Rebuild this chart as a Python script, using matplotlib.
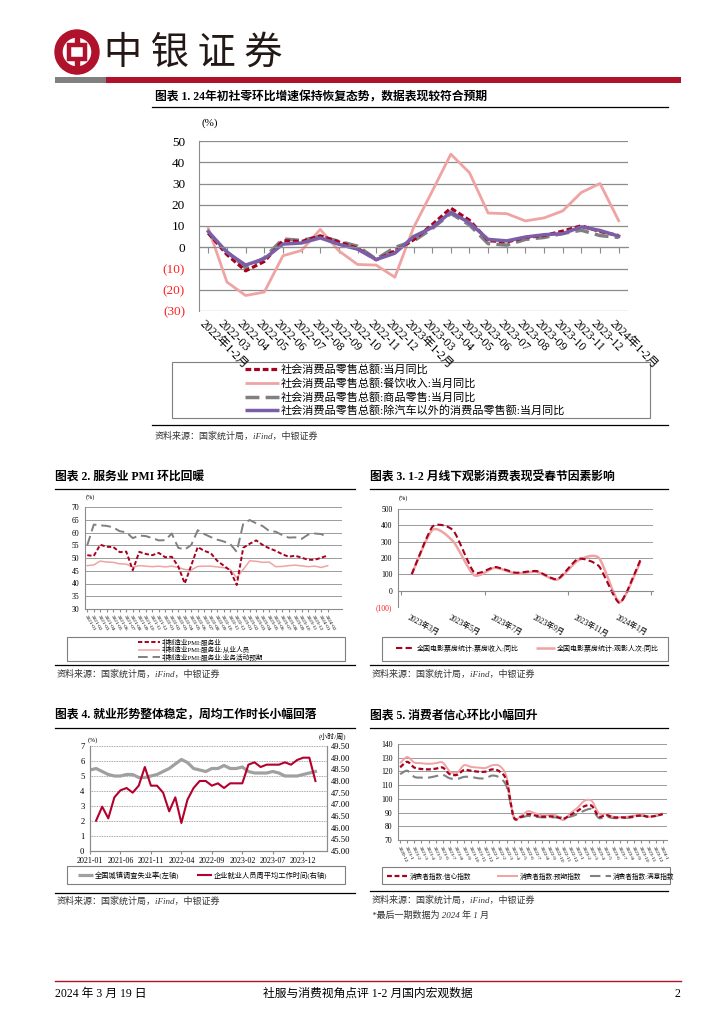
import numpy as np
import matplotlib
matplotlib.use('Agg')
import matplotlib.pyplot as plt
from matplotlib.path import Path
from matplotlib.patches import PathPatch, Wedge, Rectangle

plt.rcParams['font.family'] = ['Liberation Serif', 'Noto Sans CJK SC', 'DejaVu Sans']
plt.rcParams['axes.unicode_minus'] = False

# ---------------- data ----------------
# chart 1: retail sales yoy (%)
c1_labels = ['2022年1-2月', '2022-03', '2022-04', '2022-05', '2022-06', '2022-07', '2022-08',
             '2022-09', '2022-10', '2022-11', '2022-12', '2023年1-2月', '2023-03', '2023-04',
             '2023-05', '2023-06', '2023-07', '2023-08', '2023-09', '2023-10', '2023-11',
             '2023-12', '2024年1-2月']
c1_total = [6.7, -3.5, -11.1, -6.7, 3.1, 2.7, 5.4, 2.5, -0.5, -5.9, -1.8, 3.5, 10.6, 18.4,
            12.7, 3.1, 2.5, 4.6, 5.5, 7.6, 10.1, 7.4, 5.5]
c1_catering = [8.9, -16.4, -22.7, -21.1, -4.0, -1.5, 8.4, -1.7, -8.1, -8.4, -14.1, 9.2, 26.3,
               43.8, 35.1, 16.1, 15.8, 12.4, 13.8, 17.1, 25.8, 30.0, 12.5]
c1_goods = [6.5, -2.1, -9.7, -5.0, 3.9, 3.2, 5.1, 2.8, 0.5, -5.6, -0.1, 2.9, 8.8, 15.9, 10.5,
            1.7, 1.0, 3.7, 4.6, 6.5, 8.0, 5.5, 4.6]
c1_exauto = [7.4, -2.4, -8.4, -5.4, 1.5, 2.0, 4.4, 1.4, -0.9, -5.8, -2.8, 5.0, 9.3, 16.5, 11.5,
             3.7, 3.0, 4.8, 5.9, 6.4, 9.6, 7.9, 5.2]
c1_names = ['社会消费品零售总额:当月同比', '社会消费品零售总额:餐饮收入:当月同比',
            '社会消费品零售总额:商品零售:当月同比',
            '社会消费品零售总额:除汽车以外的消费品零售额:当月同比']

# chart 2: services PMI, 2021-01 .. 2024-02
c2_labels = ['%d-%02d' % (2021 + i // 12, i % 12 + 1) for i in range(38)]
c2_pmi = [51.1, 50.8, 55.2, 54.4, 54.3, 52.3, 52.5, 45.2, 52.4, 51.6, 51.1, 52.0, 50.3, 50.5,
          46.7, 40.0, 47.1, 54.3, 52.8, 51.9, 48.9, 47.0, 45.1, 39.4, 54.0, 55.6, 56.9, 55.1,
          53.8, 52.8, 51.5, 50.5, 50.9, 50.1, 49.3, 49.3, 50.1, 51.0]
c2_employ = [47.0, 47.3, 48.8, 48.4, 48.3, 47.7, 47.6, 46.4, 47.0, 46.8, 46.6, 46.8, 46.5, 46.8,
             46.3, 45.5, 45.3, 46.7, 46.8, 46.8, 46.5, 46.2, 45.5, 42.3, 45.5, 48.9, 48.7, 48.3,
             48.4, 46.6, 46.7, 47.0, 47.2, 46.9, 46.6, 46.8, 46.3, 47.0]
c2_expect = [55.0, 63.1, 62.8, 62.6, 62.0, 60.5, 60.1, 57.8, 58.8, 58.6, 57.8, 56.9, 57.0, 59.6,
             54.0, 53.3, 55.1, 60.9, 59.4, 58.2, 57.2, 56.5, 55.5, 52.4, 63.5, 64.9, 63.6, 62.5,
             60.6, 60.3, 59.0, 58.0, 58.1, 57.5, 59.2, 59.6, 59.4, 58.0]
c2_names = ['非制造业PMI:服务业', '非制造业PMI:服务业:从业人员', '非制造业PMI:服务业:业务活动预期']

# chart 3: box office yoy (%), 2023-03 .. 2024-02
c3_ticklabels = ['2023年3月', '2023年5月', '2023年7月', '2023年9月', '2023年11月', '2024年1月']
c3_revenue = [100, 392, 368, 112, 145, 110, 120, 70, 195, 150, -75, 190]
c3_audience = [100, 372, 300, 95, 140, 105, 115, 68, 185, 200, -70, 180]
c3_names = ['全国电影票房统计:票房收入:同比', '全国电影票房统计:观影人次:同比']

# chart 4: unemployment (%) and weekly hours, 2021-01 .. 2024-02
c4_ticklabels = ['2021-01', '2021-06', '2021-11', '2022-04', '2022-09', '2023-02', '2023-07', '2023-12']
c4_unemp = [5.4, 5.5, 5.3, 5.1, 5.0, 5.0, 5.1, 5.1, 4.9, 4.9, 5.0, 5.1, 5.3, 5.5, 5.8, 6.1, 5.9,
            5.5, 5.4, 5.3, 5.5, 5.5, 5.7, 5.5, 5.5, 5.6, 5.3, 5.2, 5.2, 5.2, 5.3, 5.2, 5.0, 5.0,
            5.0, 5.1, 5.2, 5.3]
c4_hours = [np.nan, 46.3, 46.9, 46.4, 47.3, 47.6, 47.7, 47.5, 47.8, 48.6, 47.8, 47.8, 47.5, 46.7,
            47.3, 46.2, 47.2, 47.7, 48.0, 48.0, 47.8, 47.9, 47.7, 47.9, 47.9, 47.9, 48.7, 48.8,
            48.6, 48.7, 48.7, 48.7, 48.8, 48.7, 48.9, 49.0, 49.0, 48.0]
c4_names = ['全国城镇调查失业率(左轴)', '企业就业人员周平均工作时间(右轴)']

# chart 5: consumer confidence, 2020-12 .. 2024-01
c5_labels = ['%d-%d' % (2020 + (i + 11) // 12, (i + 11) % 12 + 1) for i in range(38)]
c5_conf = [123.0, 127.0, 122.8, 121.8, 121.5, 122.0, 122.8, 118.0, 117.5, 121.0, 120.5, 119.8,
           119.8, 121.5, 120.0, 113.2, 86.7, 86.8, 88.9, 87.9, 87.0, 87.2, 86.8, 85.5, 88.3, 91.2,
           94.7, 94.9, 87.1, 88.2, 86.5, 86.5, 86.5, 87.2, 87.9, 87.0, 87.6, 88.9]
c5_expect = [126.0, 130.5, 126.5, 126.0, 125.5, 126.0, 126.5, 120.0, 119.0, 124.5, 123.3, 122.8,
             122.5, 124.5, 124.0, 116.0, 86.5, 87.5, 91.0, 89.5, 88.0, 88.2, 88.0, 84.5, 89.5,
             93.5, 98.7, 98.5, 89.5, 89.0, 87.0, 86.5, 87.0, 87.8, 88.5, 87.0, 87.8, 89.5]
c5_satisf = [118.0, 120.5, 116.0, 115.5, 115.5, 116.5, 117.5, 115.0, 114.5, 116.0, 116.0, 115.0,
             115.0, 117.0, 115.5, 109.0, 87.0, 86.5, 87.5, 87.0, 86.5, 86.5, 86.5, 86.5, 87.0,
             89.0, 91.5, 92.5, 86.0, 87.0, 86.0, 86.0, 86.2, 86.8, 87.8, 86.8, 87.5, 89.0]
c5_names = ['消费者指数:信心指数', '消费者指数:预期指数', '消费者指数:满意指数']

# ---------------- style ----------------
RED = '#A8001F'
PINK = '#F0A3A3'
GRAY = '#808080'
PURPLE = '#7B5EA8'
GRID = '#8C8C8C'
BRAND = '#B0112B'

W, H = 724, 1024
fig = plt.figure(figsize=(W / 100, H / 100), dpi=100)
fig.patch.set_facecolor('white')

deco = fig.add_axes([0, 0, 1, 1])
deco.set_xlim(0, W)
deco.set_ylim(H, 0)
deco.axis('off')


def add_ax(l, t, r, b):
    return fig.add_axes([l / W, 1 - b / H, (r - l) / W, (b - t) / H])


def smooth(ax, x, y, k=0.15, **kw):
    # bezier curve through the points (Excel-like smoothed line)
    x = np.asarray(x, float)
    y = np.asarray(y, float)
    n = len(x)
    verts = [(x[0], y[0])]
    codes = [Path.MOVETO]
    for i in range(n - 1):
        a = i - 1 if i > 0 else i
        d = i + 2 if i + 2 < n else i + 1
        verts.append((x[i] + (x[i + 1] - x[a]) * k, y[i] + (y[i + 1] - y[a]) * k))
        verts.append((x[i + 1] - (x[d] - x[i]) * k, y[i + 1] - (y[d] - y[i]) * k))
        verts.append((x[i + 1], y[i + 1]))
        codes += [Path.CURVE4] * 3
    ax.add_patch(PathPatch(Path(verts, codes), fill=False, capstyle='butt', **kw))


def legend_item(x0, x1, y, text, fs, **kw):
    deco.plot([x0, x1], [y, y], solid_capstyle='butt', dash_capstyle='butt', **kw)
    deco.text(x1 + 2, y, text, fontsize=fs, va='center', ha='left')


def box(l, t, r, b):
    deco.add_patch(Rectangle((l, t), r - l, b - t, fill=False, ec='#7F7F7F', lw=0.8))


def title(x, y, text, x0, x1, yl):
    deco.text(x, y, text, fontsize=8.5, fontweight='bold', va='center', ha='left')
    deco.plot([x0, x1], [yl, yl], color='black', lw=0.9)


def source(x, y, x0, x1, yl):
    deco.plot([x0, x1], [yl, yl], color='black', lw=0.9)
    deco.text(x, y, '资料来源：国家统计局，iFind，中银证券', fontsize=6.5, style='italic',
              color='#333333', va='center', ha='left')


def style_axes(ax, fs):
    for s in ['top', 'right']:
        ax.spines[s].set_visible(False)
    ax.spines['left'].set_color(GRID)
    ax.spines['bottom'].set_color(GRID)
    ax.yaxis.grid(True, color=GRID, lw=0.6)
    ax.set_axisbelow(True)
    ax.tick_params(axis='y', length=0, labelsize=fs, pad=4)
    ax.tick_params(axis='x', length=2.5, color=GRID, labelsize=fs)


# ---------------- header ----------------
deco.add_patch(Wedge((77, 52), 22, 0, 360, width=7, color=BRAND))
deco.add_patch(Rectangle((69, 45), 16, 14, fill=False, ec=BRAND, lw=3.2))
deco.add_patch(Rectangle((75, 31), 4, 13, color=BRAND))
deco.add_patch(Rectangle((75, 60), 4, 13, color=BRAND))
deco.text(104, 53, '中 银 证 券', fontsize=27.5, va='center', ha='left', color='#231815',
          family=['Noto Sans CJK SC'])
deco.add_patch(Rectangle((55, 77), 51, 6, color='#808080', lw=0))
deco.add_patch(Rectangle((106, 77), 575, 6, color=BRAND, lw=0))

# ---------------- chart 1 ----------------
title(155, 97, '图表 1. 24年初社零环比增速保持恢复态势，数据表现较符合预期', 152, 668, 107)
ax1 = add_ax(199, 141, 628, 311)
x1 = np.arange(len(c1_labels))
ax1.plot(x1, c1_catering, color=PINK, lw=2.0)
ax1.plot(x1, c1_goods, color=GRAY, lw=2.5, ls=(0, (4, 1.8)))
ax1.plot(x1, c1_total, color=RED, lw=2.3, ls=(0, (1.8, 0.9)))
ax1.plot(x1, c1_exauto, color=PURPLE, lw=2.5)
ax1.set_xlim(-0.5, len(c1_labels) - 0.5)
ax1.set_ylim(-30, 50)
style_axes(ax1, 9.5)
ax1.yaxis.grid(True, color=GRID, lw=0.9)
ax1.set_yticks(range(-30, 51, 10))
ax1.set_yticklabels(['(%d)' % -v if v < 0 else str(v) for v in range(-30, 51, 10)])
for lab, v in zip(ax1.get_yticklabels(), range(-30, 51, 10)):
    if v < 0:
        lab.set_color('#FF2020')
ax1.tick_params(axis='y', pad=10)
ax1.spines['bottom'].set_position(('data', 0))
ax1.set_xticks(x1)
ax1.tick_params(axis='x', labelbottom=False, length=4)
for i, lab in enumerate(c1_labels):
    ax1.text(i - 0.15, -0.04, lab, transform=ax1.get_xaxis_transform(), rotation=-45,
             rotation_mode='anchor', ha='left', va='top', fontsize=8.5)
deco.text(202, 123, '(%)', fontsize=8, va='center', ha='left')

box(172, 362, 650, 418)
legend_item(245, 279, 369, c1_names[0], 8, color=RED, lw=2.3, ls=(0, (1.8, 0.9)))
legend_item(245, 279, 383, c1_names[1], 8, color=PINK, lw=2.0)
legend_item(245, 279, 397, c1_names[2], 8, color=GRAY, lw=2.5, ls=(0, (4, 1.8)))
legend_item(245, 279, 410, c1_names[3], 8, color=PURPLE, lw=2.5)
source(155, 436, 152, 668, 425)

# ---------------- chart 2 ----------------
title(55, 477, '图表 2. 服务业 PMI 环比回暖', 55, 355, 489)
ax2 = add_ax(85, 507, 342, 609)
x2 = np.arange(len(c2_labels))
ax2.plot(x2, c2_employ, color=PINK, lw=1.1)
ax2.plot(x2, c2_expect, color=GRAY, lw=1.4, ls=(0, (5, 2.5)))
ax2.plot(x2, c2_pmi, color=RED, lw=1.4, ls=(0, (2.2, 1.2)))
ax2.set_xlim(-0.35, 39.2)
ax2.set_ylim(30, 70)
style_axes(ax2, 5.5)
ax2.set_yticks(range(30, 71, 5))
ax2.set_xticks(x2)
ax2.set_xticklabels(c2_labels, rotation=-60, ha='left', va='top', rotation_mode='anchor',
                    fontsize=3.8)
ax2.tick_params(axis='x', pad=1.5)
deco.text(86, 497, '(%)', fontsize=4.5, va='center', ha='left')

box(67, 637, 345, 661)
legend_item(138, 160, 642, c2_names[0], 4.8, color=RED, lw=1.4, ls=(0, (2.2, 1.2)))
legend_item(138, 160, 649.5, c2_names[1], 4.8, color=PINK, lw=1.1)
legend_item(138, 160, 657, c2_names[2], 4.8, color=GRAY, lw=1.4, ls=(0, (5, 2.5)))
source(57, 674, 55, 355, 665)

# ---------------- chart 3 ----------------
title(370, 477, '图表 3. 1-2 月线下观影消费表现受春节因素影响', 370, 668, 489)
ax3 = add_ax(398, 509, 653, 607)
x3 = np.arange(len(c3_revenue))
smooth(ax3, x3, c3_audience, k=0.12, ec=PINK, lw=1.8)
smooth(ax3, x3, c3_revenue, k=0.1, ec=RED, lw=1.5, ls=(0, (3, 1.6)))
ax3.set_xlim(-0.66, 11.6)
ax3.set_ylim(-100, 500)
style_axes(ax3, 5.5)
ax3.set_yticks(range(-100, 501, 100))
ax3.set_yticklabels(['(100)' if v < 0 else str(v) for v in range(-100, 501, 100)])
ax3.get_yticklabels()[0].set_color('#FF2020')
ax3.spines['bottom'].set_position(('data', 0))
ax3.set_xticks([-0.5, 3.5, 7.5, 11.5])
ax3.tick_params(axis='x', labelbottom=False, length=3)
for k, lab in enumerate(c3_ticklabels):
    ax3.text(2 * k - 0.1, -0.07, lab, transform=ax3.get_xaxis_transform(), rotation=-28,
             rotation_mode='anchor', ha='left', va='top', fontsize=5.5)
deco.text(399, 498, '(%)', fontsize=4.5, va='center', ha='left')

box(382, 637, 668, 661)
legend_item(396, 415, 648, c3_names[0], 5, color=RED, lw=1.5, ls=(0, (3, 1.6)))
legend_item(536, 555, 648, c3_names[1], 5, color=PINK, lw=1.8)
source(372, 674, 370, 668, 665)

# ---------------- chart 4 ----------------
title(55, 716, '图表 4. 就业形势整体稳定，周均工作时长小幅回落', 55, 355, 728)
ax4 = add_ax(90, 746, 327, 851)
x4 = np.arange(len(c4_unemp))
ax4.plot(x4, c4_unemp, color='#A0A0A0', lw=2.3)
ax4.set_xlim(0, 38.9)
ax4.set_ylim(0, 7)
ax4.set_yticks(range(0, 8))
ax4.spines['top'].set_visible(False)
for s in ['left', 'right', 'bottom']:
    ax4.spines[s].set_color(GRID)
ax4.yaxis.grid(True, color=GRID, lw=0.6, ls=(0, (1, 1)))
ax4.set_axisbelow(True)
ax4.tick_params(axis='y', length=0, labelsize=6.2, pad=4)
ax4.set_xticks(range(0, 36, 5))
ax4.set_xticklabels(c4_ticklabels, fontsize=5.8)
ax4.tick_params(axis='x', length=2.5, color=GRID, pad=1.5)
ax4r = ax4.twinx()
ax4r.plot(x4, c4_hours, color='#B4002D', lw=1.5)
ax4r.set_ylim(45, 49.5)
ax4r.set_yticks(np.arange(45, 49.51, 0.5))
ax4r.set_yticklabels(['%.2f' % v for v in np.arange(45, 49.51, 0.5)])
ax4r.tick_params(axis='y', length=0, labelsize=6.2, pad=3)
ax4r.spines['top'].set_visible(False)
for s in ['left', 'right', 'bottom']:
    ax4r.spines[s].set_color(GRID)
deco.text(88, 740, '(%)', fontsize=5, va='center', ha='left')
deco.text(319, 736, '(小时/周)', fontsize=5, va='center', ha='left')

box(67, 866, 345, 884)
legend_item(78, 93, 875, c4_names[0], 5.2, color='#A0A0A0', lw=2.3)
legend_item(197, 212, 875, c4_names[1], 5.2, color='#B4002D', lw=1.5)
source(57, 901, 55, 355, 893)

# ---------------- chart 5 ----------------
title(370, 716, '图表 5. 消费者信心环比小幅回升', 370, 668, 728)
ax5 = add_ax(398, 744, 667, 840)
x5 = np.arange(len(c5_conf))
smooth(ax5, x5, c5_satisf, ec=GRAY, lw=1.5, ls=(0, (5, 2.5)))
smooth(ax5, x5, c5_expect, ec=PINK, lw=1.4)
smooth(ax5, x5, c5_conf, ec=RED, lw=1.6, ls=(0, (2.2, 1.2)))
ax5.set_xlim(-0.3, 37.6)
ax5.set_ylim(70, 140)
style_axes(ax5, 5.5)
ax5.set_yticks(range(70, 141, 10))
ax5.set_xticks(x5)
ax5.set_xticklabels(c5_labels, rotation=-65, ha='left', va='top', rotation_mode='anchor',
                    fontsize=3.8)
ax5.tick_params(axis='x', pad=1.5)

box(382, 867, 670, 884)
legend_item(387, 408, 876, c5_names[0], 4.8, color=RED, lw=1.6, ls=(0, (2.2, 1.2)))
legend_item(497, 518, 876, c5_names[1], 4.8, color=PINK, lw=1.4)
legend_item(590, 611, 876, c5_names[2], 4.8, color=GRAY, lw=1.5, ls=(0, (5, 2.5)))
source(372, 900, 370, 668, 891)
deco.text(372, 915, '*最后一期数据为 2024 年 1 月', fontsize=6.5, style='italic',
          color='#333333', va='center', ha='left')

# ---------------- footer ----------------
deco.plot([55, 681], [981, 981], color=BRAND, lw=1.0)
deco.text(55, 994, '2024 年 3 月 19 日', fontsize=8.5, va='center', ha='left')
deco.text(368, 994, '社服与消费视角点评 1-2 月国内宏观数据', fontsize=8.5, va='center', ha='center')
deco.text(680, 994, '2', fontsize=8.5, va='center', ha='right')

fig.savefig('out.png', dpi=100, facecolor='white')
